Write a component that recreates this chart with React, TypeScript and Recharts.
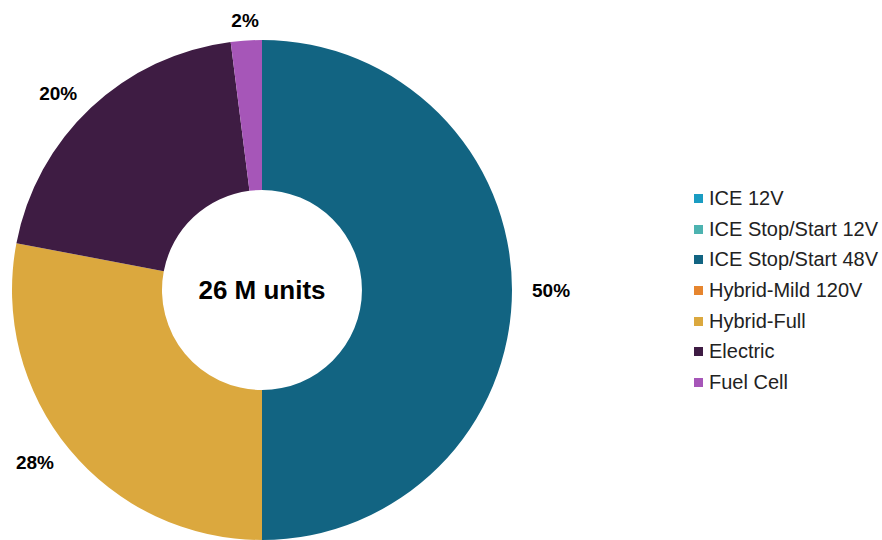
import { PieChart, Pie, Cell, Legend, Label } from 'recharts';

const categories = [
  'ICE 12V',
  'ICE Stop/Start 12V',
  'ICE Stop/Start 48V',
  'Hybrid-Mild 120V',
  'Hybrid-Full',
  'Electric',
  'Fuel Cell',
];
const shares = [0, 0, 50, 0, 28, 20, 2];
const colors = ['#1a9cc2', '#4db3b0', '#126482', '#e6852e', '#dba83e', '#3e1c43', '#a656b8'];
const centerText = '26 M units';

const data = categories.map((name, i) => ({ name, value: shares[i], color: colors[i] }));

const FONT = '"Liberation Sans", Arial, sans-serif';
const RADIAN = Math.PI / 180;
const CX = 262;
const CY = 290;

function renderLabel(props: any) {
  const { cx, cy, midAngle, outerRadius, value } = props;
  if (!value) return null;
  const r = outerRadius + 20;
  const cos = Math.cos(-midAngle * RADIAN);
  const sin = Math.sin(-midAngle * RADIAN);
  const x = cx + r * cos;
  const y = cy + r * sin;
  const anchor = Math.abs(cos) < 0.2 ? 'middle' : cos > 0 ? 'start' : 'end';
  return (
    <text
      x={x}
      y={y}
      textAnchor={anchor}
      dominantBaseline="central"
      fontFamily={FONT}
      fontWeight="bold"
      fontSize={19}
      fill="#000"
    >
      {value}%
    </text>
  );
}

function renderCenter() {
  return (
    <text
      x={CX}
      y={CY}
      textAnchor="middle"
      dominantBaseline="central"
      fontFamily={FONT}
      fontWeight="bold"
      fontSize={26}
      fill="#000"
    >
      {centerText}
    </text>
  );
}

function renderLegend() {
  return (
    <div style={{ fontFamily: FONT, fontSize: 20, color: '#222' }}>
      {data.map((d) => (
        <div key={d.name} style={{ display: 'flex', alignItems: 'center', height: 30.7 }}>
          <span
            style={{ width: 9, height: 9, background: d.color, marginRight: 6, display: 'inline-block' }}
          />
          <span style={{ whiteSpace: 'nowrap' }}>{d.name}</span>
        </div>
      ))}
    </div>
  );
}

export default function App() {
  return (
    <div style={{ position: 'absolute', left: 0, top: 0, width: 882, height: 540, background: '#fff' }}>
      <PieChart width={882} height={540} margin={{ top: 0, right: 0, bottom: 0, left: 0 }}>
        <Pie
          data={data}
          dataKey="value"
          nameKey="name"
          cx={CX}
          cy={CY}
          innerRadius={100}
          outerRadius={250}
          startAngle={90}
          endAngle={-270}
          stroke="none"
          label={renderLabel}
          labelLine={false}
          isAnimationActive={false}
        >
          {data.map((d) => (
            <Cell key={d.name} fill={d.color} />
          ))}
          <Label position="center" content={renderCenter} />
        </Pie>
        <Legend
          layout="vertical"
          align="right"
          verticalAlign="top"
          content={renderLegend}
          wrapperStyle={{ left: 694, top: 183, width: 188 }}
        />
      </PieChart>
    </div>
  );
}
